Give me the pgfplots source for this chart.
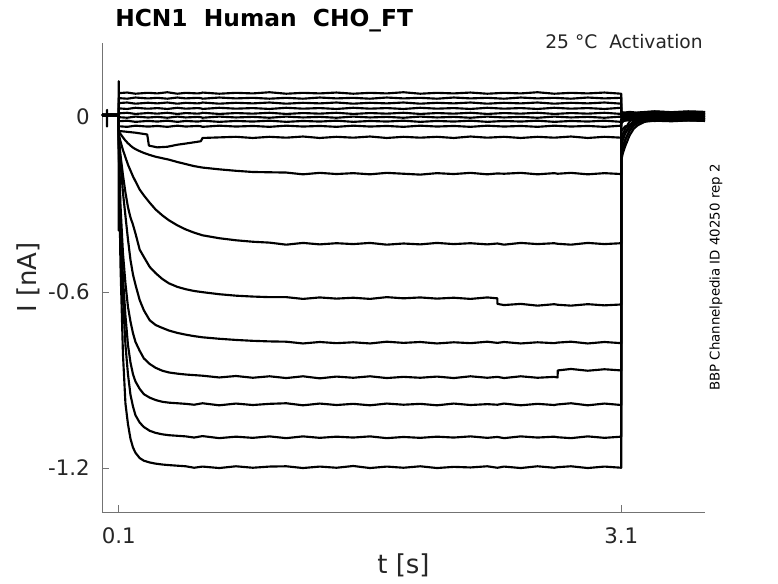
\documentclass[border=0pt]{standalone}
\usepackage{fontspec}
\setmainfont{DejaVu Sans}
\usepackage{pgfplots}
\usepackage{pgfplotstable}
\pgfplotsset{compat=1.18}

% Traces that stay near zero (T1-T8) and the trace with the early step (T9)
\pgfplotstableread{
t T1 T2 T3 T4 T5 T6 T7 T8 T9
0 0.005 0.003 0.006 0.004 0.002 0.005 0.003 0.006 0.004
0.03 0.003 0.006 0.004 0.005 0.003 0.004 0.006 0.002 0.005
0.03 0.003 0.006 0.004 0.005 0.003 0.004 0.006 0.002 0.022
0.03 0.003 0.006 0.004 0.005 0.003 0.004 0.006 0.002 -0.035
0.03 0.003 0.006 0.004 0.005 0.003 0.004 0.006 0.002 0.005
0.06 0.006 0.004 0.003 0.006 0.005 0.002 0.004 0.005 0.003
0.1 0.004 0.005 0.002 0.003 0.006 0.004 0.005 0.003 0.006
0.1 0.120 0.062 0.045 0.027 0.010 -0.003 -0.017 -0.034 -0.050
0.1 0.079 0.062 0.045 0.027 0.010 -0.003 -0.017 -0.034 -0.050
0.15 0.081 0.060 0.047 0.025 0.012 -0.005 -0.015 -0.036 -0.053
0.2 0.077 0.064 0.043 0.029 0.008 -0.001 -0.019 -0.032 -0.056
0.27 0.080 0.061 0.046 0.026 0.011 -0.004 -0.016 -0.035 -0.062
0.28 0.080 0.061 0.046 0.026 0.011 -0.004 -0.016 -0.035 -0.100
0.33 0.078 0.063 0.044 0.028 0.009 -0.002 -0.018 -0.033 -0.106
0.39 0.082 0.060 0.047 0.025 0.012 -0.005 -0.015 -0.036 -0.104
0.45 0.077 0.064 0.043 0.029 0.008 -0.001 -0.019 -0.032 -0.097
0.5 0.080 0.061 0.046 0.026 0.011 -0.004 -0.016 -0.035 -0.093
0.57 0.078 0.063 0.044 0.028 0.009 -0.002 -0.018 -0.033 -0.087
0.59 0.079 0.062 0.045 0.027 0.010 -0.003 -0.017 -0.034 -0.085
0.6 0.081 0.060 0.047 0.025 0.012 -0.005 -0.015 -0.036 -0.074
0.7 0.077 0.064 0.043 0.029 0.008 -0.001 -0.019 -0.032 -0.072
0.8 0.080 0.061 0.046 0.026 0.011 -0.004 -0.016 -0.035 -0.070
0.9 0.078 0.063 0.044 0.028 0.009 -0.002 -0.018 -0.033 -0.074
1.0 0.082 0.060 0.047 0.025 0.012 -0.005 -0.015 -0.036 -0.070
1.1 0.077 0.063 0.043 0.029 0.008 -0.001 -0.019 -0.032 -0.073
1.2 0.080 0.060 0.046 0.026 0.011 -0.004 -0.016 -0.035 -0.069
1.3 0.078 0.064 0.044 0.028 0.009 -0.002 -0.018 -0.033 -0.074
1.4 0.081 0.061 0.047 0.025 0.012 -0.005 -0.015 -0.036 -0.070
1.5 0.077 0.063 0.043 0.029 0.008 -0.001 -0.019 -0.032 -0.073
1.6 0.080 0.060 0.046 0.026 0.011 -0.004 -0.016 -0.035 -0.069
1.7 0.078 0.064 0.044 0.028 0.009 -0.002 -0.018 -0.033 -0.074
1.8 0.082 0.061 0.047 0.025 0.012 -0.005 -0.015 -0.036 -0.070
1.9 0.077 0.063 0.043 0.029 0.008 -0.001 -0.019 -0.032 -0.073
2.0 0.080 0.060 0.046 0.026 0.011 -0.004 -0.016 -0.035 -0.070
2.1 0.078 0.064 0.044 0.028 0.009 -0.002 -0.018 -0.033 -0.074
2.2 0.081 0.061 0.047 0.025 0.012 -0.005 -0.015 -0.036 -0.069
2.3 0.077 0.063 0.043 0.029 0.008 -0.001 -0.019 -0.032 -0.073
2.4 0.080 0.060 0.046 0.026 0.011 -0.004 -0.016 -0.035 -0.070
2.5 0.078 0.064 0.044 0.028 0.009 -0.002 -0.018 -0.033 -0.074
2.6 0.082 0.061 0.047 0.025 0.012 -0.005 -0.015 -0.036 -0.070
2.7 0.077 0.063 0.043 0.029 0.008 -0.001 -0.019 -0.032 -0.073
2.8 0.080 0.060 0.046 0.026 0.011 -0.004 -0.016 -0.035 -0.069
2.9 0.078 0.064 0.044 0.028 0.009 -0.002 -0.018 -0.033 -0.074
3.0 0.081 0.061 0.047 0.025 0.012 -0.005 -0.015 -0.036 -0.070
3.1 0.077 0.063 0.043 0.029 0.008 -0.001 -0.019 -0.032 -0.073
3.1 0.014 0.010 0.006 0.002 -0.002 -0.006 -0.010 -0.016 -0.020
3.125 0.013 0.011 0.005 0.003 -0.003 -0.005 -0.011 -0.015 -0.010
3.15 0.015 0.009 0.007 0.001 -0.001 -0.007 -0.009 -0.013 0.004
3.2 0.012 0.011 0.004 0.003 -0.004 -0.005 -0.012 -0.014 0.013
3.3 0.016 0.008 0.007 0.000 -0.001 -0.008 -0.009 -0.016 0.017
3.4 0.013 0.012 0.005 0.004 -0.003 -0.004 -0.011 -0.013 0.014
3.5 0.015 0.009 0.008 0.001 0.000 -0.007 -0.008 -0.015 0.017
3.6 0.014 0.010 0.006 0.002 -0.002 -0.006 -0.010 -0.014 0.015
}\tA

% Activating traces (T10-T17)
\pgfplotstableread{
t T10 T11 T12 T13 T14 T15 T16 T17
0 0.004 0.006 0.003 0.005 0.002 0.006 0.004 0.003
0.05 0.006 0.003 0.005 0.002 0.006 0.004 0.005 0.006
0.1 0.005 0.004 0.006 0.003 0.005 0.006 0.002 0.005
0.1 -0.05 -0.06 -0.07 -0.08 -0.09 -0.10 -0.10 -0.39
0.1 -0.05 -0.06 -0.07 -0.08 -0.09 -0.10 -0.10 -0.10
0.11 -0.060 -0.085 -0.13 -0.15 -0.30 -0.35 -0.40 -0.50
0.125 -0.072 -0.115 -0.20 -0.26 -0.466 -0.55 -0.62 -0.81
0.14 -0.083 -0.140 -0.26 -0.34 -0.57 -0.68 -0.78 -0.98
0.155 -0.092 -0.165 -0.31 -0.42 -0.65 -0.78 -0.88 -1.05
0.17 -0.100 -0.185 -0.345 -0.49 -0.70 -0.84 -0.95 -1.10
0.185 -0.107 -0.205 -0.37 -0.54 -0.74 -0.88 -0.99 -1.13
0.2 -0.112 -0.222 -0.40 -0.575 -0.77 -0.905 -1.02 -1.148
0.225 -0.119 -0.250 -0.455 -0.627 -0.80 -0.93 -1.045 -1.166
0.25 -0.125 -0.270 -0.48 -0.662 -0.826 -0.948 -1.06 -1.175
0.285 -0.132 -0.295 -0.514 -0.696 -0.845 -0.96 -1.073 -1.181
0.32 -0.138 -0.318 -0.535 -0.712 -0.858 -0.968 -1.08 -1.185
0.36 -0.143 -0.338 -0.555 -0.722 -0.868 -0.974 -1.085 -1.188
0.4 -0.148 -0.355 -0.57 -0.731 -0.874 -0.977 -1.088 -1.19
0.45 -0.156 -0.372 -0.582 -0.739 -0.878 -0.979 -1.09 -1.192
0.5 -0.163 -0.386 -0.59 -0.745 -0.881 -0.981 -1.092 -1.194
0.55 -0.170 -0.397 -0.596 -0.750 -0.883 -0.984 -1.096 -1.199
0.6 -0.175 -0.406 -0.600 -0.754 -0.885 -0.979 -1.091 -1.195
0.7 -0.181 -0.416 -0.607 -0.759 -0.891 -0.986 -1.098 -1.200
0.8 -0.186 -0.423 -0.612 -0.763 -0.886 -0.980 -1.093 -1.194
0.9 -0.190 -0.428 -0.615 -0.766 -0.892 -0.985 -1.097 -1.199
1.0 -0.191 -0.431 -0.617 -0.768 -0.887 -0.981 -1.092 -1.195
1.1 -0.192 -0.438 -0.617 -0.769 -0.893 -0.979 -1.098 -1.194
1.2 -0.198 -0.432 -0.623 -0.775 -0.887 -0.986 -1.092 -1.200
1.3 -0.193 -0.437 -0.618 -0.770 -0.894 -0.980 -1.097 -1.195
1.4 -0.197 -0.433 -0.622 -0.774 -0.888 -0.985 -1.093 -1.199
1.5 -0.194 -0.436 -0.619 -0.771 -0.892 -0.981 -1.096 -1.193
1.6 -0.198 -0.432 -0.623 -0.775 -0.887 -0.986 -1.092 -1.200
1.7 -0.193 -0.438 -0.617 -0.769 -0.893 -0.980 -1.098 -1.195
1.8 -0.196 -0.434 -0.621 -0.773 -0.889 -0.984 -1.094 -1.199
1.9 -0.199 -0.437 -0.618 -0.770 -0.892 -0.981 -1.097 -1.194
2.0 -0.194 -0.432 -0.622 -0.775 -0.888 -0.986 -1.093 -1.200
2.1 -0.197 -0.436 -0.619 -0.771 -0.893 -0.980 -1.096 -1.196
2.2 -0.193 -0.433 -0.623 -0.774 -0.887 -0.985 -1.092 -1.198
2.3 -0.198 -0.437 -0.618 -0.769 -0.892 -0.982 -1.097 -1.194
2.36 -0.195 -0.434 -0.621 -0.773 -0.889 -0.984 -1.094 -1.199
2.361 -0.195 -0.434 -0.640 -0.773 -0.889 -0.984 -1.094 -1.199
2.4 -0.196 -0.438 -0.644 -0.770 -0.893 -0.980 -1.098 -1.195
2.5 -0.193 -0.432 -0.640 -0.775 -0.887 -0.986 -1.092 -1.200
2.6 -0.198 -0.436 -0.646 -0.771 -0.892 -0.981 -1.096 -1.194
2.7 -0.194 -0.433 -0.641 -0.774 -0.889 -0.985 -1.093 -1.199
2.72 -0.196 -0.435 -0.643 -0.772 -0.891 -0.983 -1.095 -1.197
2.721 -0.196 -0.435 -0.643 -0.772 -0.867 -0.983 -1.095 -1.197
2.8 -0.193 -0.438 -0.646 -0.769 -0.862 -0.979 -1.098 -1.194
2.9 -0.198 -0.432 -0.641 -0.775 -0.868 -0.986 -1.092 -1.200
3.0 -0.194 -0.436 -0.645 -0.770 -0.863 -0.980 -1.097 -1.195
3.1 -0.197 -0.433 -0.642 -0.774 -0.867 -0.985 -1.093 -1.199
3.1 -0.025 -0.050 -0.075 -0.090 -0.100 -0.120 -0.135 -0.150
3.11 -0.018 -0.043 -0.060 -0.075 -0.080 -0.100 -0.110 -0.125
3.125 -0.010 -0.034 -0.042 -0.057 -0.056 -0.078 -0.080 -0.100
3.15 0.003 -0.034 -0.018 -0.036 -0.031 -0.050 -0.047 -0.065
3.175 0.007 -0.026 -0.007 -0.022 -0.016 -0.032 -0.027 -0.042
3.2 0.009 -0.022 -0.001 -0.015 -0.008 -0.022 -0.016 -0.030
3.25 0.010 -0.018 0.005 -0.008 0.001 -0.012 -0.004 -0.016
3.3 0.013 -0.015 0.009 -0.003 0.005 -0.007 0.001 -0.011
3.4 0.011 -0.017 0.006 -0.005 0.003 -0.010 -0.002 -0.013
3.5 0.014 -0.014 0.010 -0.002 0.006 -0.006 0.002 -0.010
3.6 0.012 -0.016 0.008 -0.004 0.004 -0.008 0.000 -0.012
}\tB

\begin{document}
\begin{tikzpicture}
\useasboundingbox (-76.5pt,-53.25pt) rectangle (507pt,384pt);
\begin{axis}[
  scale only axis,
  width=452.25pt, height=351.75pt,
  xmin=0, xmax=3.6, ymin=-1.35, ymax=0.25,
  axis lines*=left,
  axis line style={black!55, line width=0.6pt},
  tick style={black!55, line width=0.6pt},
  tick align=inside,
  major tick length=5pt,
  xtick={0.1,3.1}, xticklabels={0.1,3.1},
  ytick={-1.2,-0.6,0}, yticklabels={-1.2,-0.6,0},
  xticklabel style={inner sep=0pt, anchor=north, yshift=-11.25pt, font=\fontsize{16pt}{19pt}\selectfont, text=black!85},
  yticklabel style={inner sep=0pt, anchor=east, xshift=-9pt, font=\fontsize{16pt}{19pt}\selectfont, text=black!85},
  clip=false,
  trace/.style={black, solid, line width=1.6pt, line join=round, no marks},
]
\addplot[trace] table[x=t,y=T1] {\tA};
\addplot[trace] table[x=t,y=T2] {\tA};
\addplot[trace] table[x=t,y=T3] {\tA};
\addplot[trace] table[x=t,y=T4] {\tA};
\addplot[trace] table[x=t,y=T5] {\tA};
\addplot[trace] table[x=t,y=T6] {\tA};
\addplot[trace] table[x=t,y=T7] {\tA};
\addplot[trace] table[x=t,y=T8] {\tA};
\addplot[trace] table[x=t,y=T9] {\tA};
\addplot[trace] table[x=t,y=T10] {\tB};
\addplot[trace] table[x=t,y=T11] {\tB};
\addplot[trace] table[x=t,y=T12] {\tB};
\addplot[trace] table[x=t,y=T13] {\tB};
\addplot[trace] table[x=t,y=T14] {\tB};
\addplot[trace] table[x=t,y=T15] {\tB};
\addplot[trace] table[x=t,y=T16] {\tB};
\addplot[trace] table[x=t,y=T17] {\tB};

\node[anchor=base west, inner sep=0pt, font=\bfseries\fontsize{17.5pt}{20pt}\selectfont, xshift=9.75pt, yshift=12.75pt]
  at (rel axis cs:0,1) {HCN1\ \ Human\ \ CHO\_FT};
\node[anchor=base east, inner sep=0pt, font=\fontsize{14pt}{17pt}\selectfont, text=black!85, xshift=-1.5pt, yshift=-3.75pt]
  at (rel axis cs:1,1) {25 °C\ \ Activation};
\node[anchor=center, inner sep=0pt, font=\fontsize{10pt}{12pt}\selectfont, xshift=8.25pt, rotate=90]
  at (rel axis cs:1,0.5) {BBP Channelpedia ID 40250 rep 2};
\node[anchor=base, inner sep=0pt, font=\fontsize{19.5pt}{23pt}\selectfont, text=black!85, yshift=-46pt]
  at (rel axis cs:0.5,0) {t [s]};
\node[anchor=base, inner sep=0pt, font=\fontsize{19.5pt}{23pt}\selectfont, text=black!85, xshift=-49pt, rotate=90]
  at (rel axis cs:0,0.5) {I [nA]};
\end{axis}
\end{tikzpicture}
\end{document}
